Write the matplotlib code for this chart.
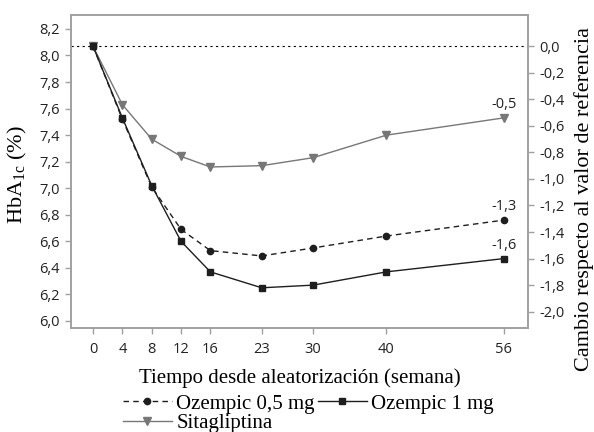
import matplotlib
matplotlib.use("Agg")
import matplotlib.pyplot as plt
from matplotlib.ticker import FuncFormatter

# semanas y valores de HbA1c (%)
semanas = [0, 4, 8, 12, 16, 23, 30, 40, 56]
ozempic_05 = [8.07, 7.52, 7.01, 6.69, 6.53, 6.49, 6.55, 6.64, 6.76]
ozempic_1 = [8.07, 7.53, 7.02, 6.60, 6.37, 6.25, 6.27, 6.37, 6.47]
sitagliptina = [8.07, 7.63, 7.37, 7.24, 7.16, 7.17, 7.23, 7.40, 7.53]
basal = 8.07

etiquetas_fin = ["-1,3", "-1,6", "-0,5"]

yticks_izq = [6.0, 6.2, 6.4, 6.6, 6.8, 7.0, 7.2, 7.4, 7.6, 7.8, 8.0, 8.2]
yticks_der = [0.0, -0.2, -0.4, -0.6, -0.8, -1.0, -1.2, -1.4, -1.6, -1.8, -2.0]

sans = "Open Sans"
serif = "Liberation Serif"
gris_eje = "#a0a0a0"

def coma(v, pos):
    s = "%.1f" % v
    if s == "-0.0":
        s = "0.0"
    return s.replace(".", ",")

fig = plt.figure(figsize=(5.94, 4.32), dpi=100)
ax = fig.add_axes([0.1195, 0.2407, 0.7695, 0.7246])

ax.axhline(basal, color="black", linestyle=(0, (2, 3)), linewidth=0.8, zorder=1)

l1, = ax.plot(semanas, ozempic_05, color="#1e1e1e", linestyle=(0, (4, 3)), linewidth=1.0,
              marker="o", markersize=4.5, label="Ozempic 0,5 mg", zorder=3)
l2, = ax.plot(semanas, ozempic_1, color="#1e1e1e", linestyle="-", linewidth=1.0,
              marker="s", markersize=4.5, label="Ozempic 1 mg", zorder=3)
l3, = ax.plot(semanas, sitagliptina, color="#777777", linestyle="-", linewidth=1.0,
              marker="v", markersize=5.5, label="Sitagliptina", zorder=2)

for serie, txt in zip([ozempic_05, ozempic_1, sitagliptina], etiquetas_fin):
    ax.annotate(txt, (semanas[-1], serie[-1]), xytext=(0, 9.5), textcoords="offset points",
                ha="center", va="center", fontsize=10.5, family=sans, color="#222222")

ax.set_xlim(-3, 59.3)
ax.set_ylim(5.947, 8.305)
ax.set_xticks(semanas)
ax.set_yticks(yticks_izq)
ax.yaxis.set_major_formatter(FuncFormatter(coma))

ax2 = ax.twinx()
ax2.set_ylim(5.947 - basal, 8.305 - basal)
ax2.set_yticks(yticks_der)
ax2.yaxis.set_major_formatter(FuncFormatter(coma))

for a in (ax, ax2):
    for s in a.spines.values():
        s.set_color(gris_eje)
        s.set_linewidth(1.2)
    a.tick_params(colors=gris_eje, labelcolor="#222222", length=4, width=1.0,
                  labelsize=10.5, pad=4)
    for lab in a.get_xticklabels() + a.get_yticklabels():
        lab.set_family(sans)
ax.tick_params(axis="x", pad=6)

ax.set_xlabel("Tiempo desde aleatorización (semana)", family=serif, fontsize=15, labelpad=8)
ax.set_ylabel("HbA$_{\\mathregular{1c}}$ (%)", family=serif, fontsize=16)
ax.yaxis.set_label_coords(-0.092, 0.489)
ax2.set_ylabel("Cambio respecto al valor de referencia", family=serif, fontsize=16)
ax2.yaxis.set_label_coords(1.10, 0.412)

leg = fig.legend([l1, l3, l2], ["Ozempic 0,5 mg", "Sitagliptina", "Ozempic 1 mg"],
                 ncol=2, loc="upper left", bbox_to_anchor=(123 / 594, 0.088),
                 frameon=False, prop={"family": serif, "size": 15},
                 handlelength=2.35, handletextpad=0.2, columnspacing=0.15,
                 labelspacing=0.0, borderpad=0.0, borderaxespad=0.0)

fig.savefig("out.png", dpi=100)
